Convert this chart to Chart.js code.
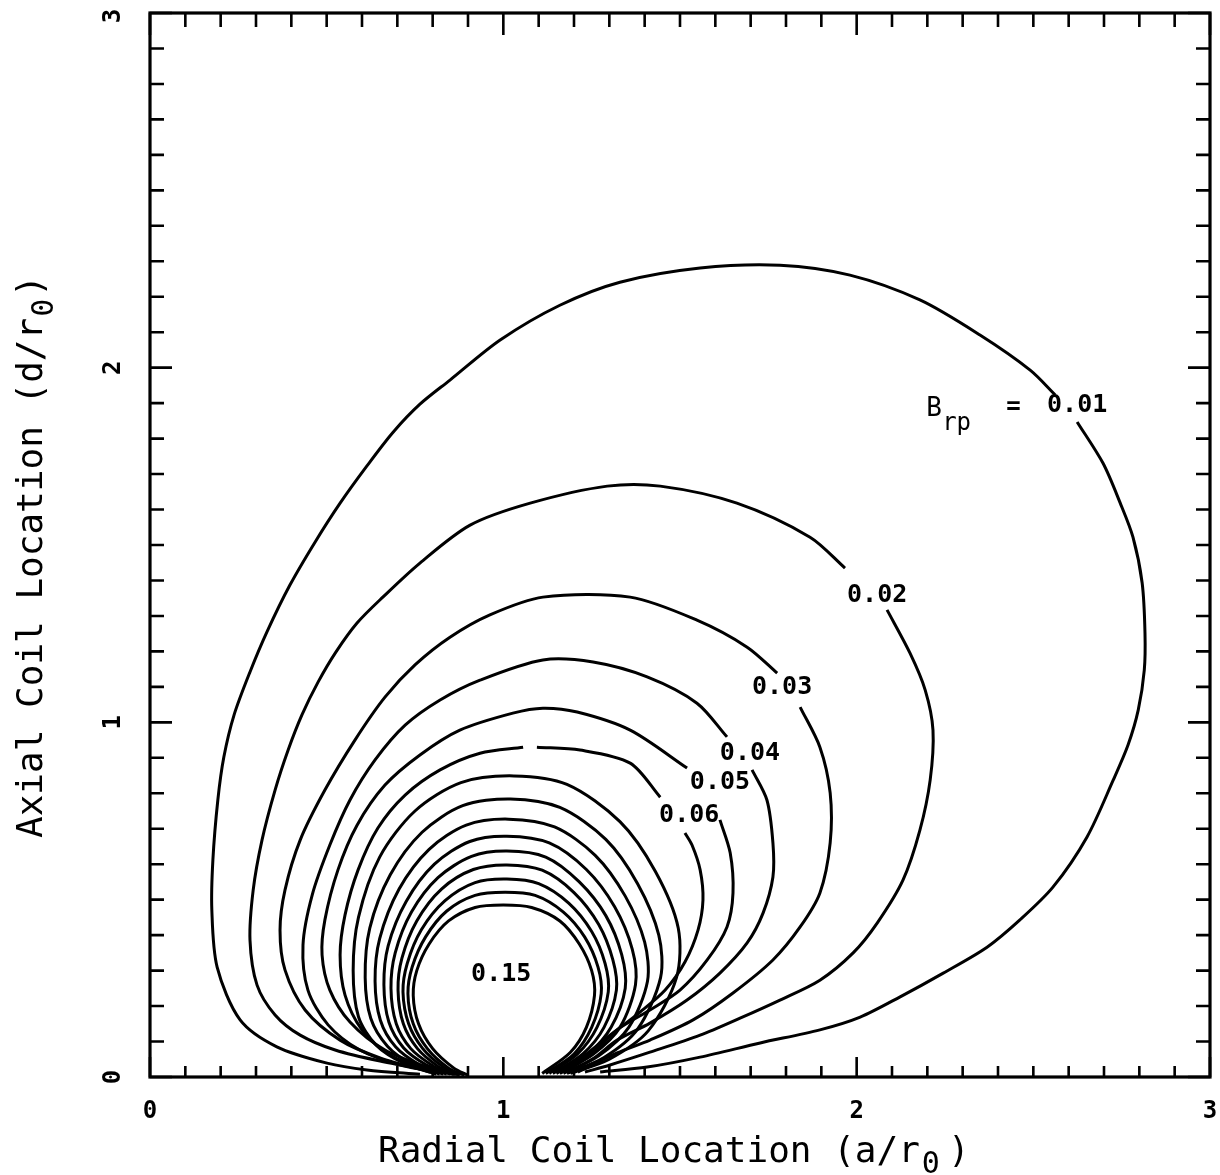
<!DOCTYPE html>
<html>
<head>
<meta charset="utf-8">
<title>Brp contours</title>
<script src="https://cdn.jsdelivr.net/npm/chart.js@4.4.1/dist/chart.umd.min.js"></script>
<style>
  html, body { margin: 0; padding: 0; background: #fff; }
  #wrap { width: 1220px; height: 1175px; }
</style>
</head>
<body>
<div id="wrap"><canvas id="contourChart" width="1220" height="1175"></canvas></div>
<script>
// Axis ticks
const xTickValues = [0, 1, 2, 3];
const yTickValues = [0, 1, 2, 3];
const minorStep = 0.1;

// Contour levels, outermost first
const levels = [0.01, 0.02, 0.03, 0.04, 0.05, 0.06, 0.07, 0.08, 0.09, 0.10, 0.11, 0.12, 0.13, 0.14, 0.15];

// Traced contours [a/r0, d/r0]; null = break where a label sits
const c01 = [[1.274,0.014],[1.407,0.028],[1.557,0.056],[1.727,0.096],[1.896,0.133],[2.010,0.169],[2.123,0.226],[2.245,0.293],[2.369,0.366],[2.462,0.443],[2.556,0.536],[2.652,0.677],[2.726,0.837],[2.768,0.936],[2.797,1.035],[2.814,1.147],[2.816,1.252],[2.808,1.393],[2.782,1.522],[2.746,1.618],[2.697,1.731],[2.624,1.847],null,[2.562,1.923],[2.491,1.993],[2.349,2.092],[2.179,2.191],[1.981,2.261],[1.783,2.289],[1.557,2.281],[1.330,2.241],[1.160,2.176],[0.991,2.078],[0.849,1.965],[0.764,1.897],[0.688,1.818],[0.614,1.723],[0.538,1.618],[0.467,1.508],[0.396,1.387],[0.331,1.255],[0.283,1.142],[0.238,1.021],[0.209,0.902],[0.192,0.781],[0.178,0.612],[0.175,0.471],[0.190,0.310],[0.255,0.161],[0.359,0.085],[0.501,0.039],[0.614,0.020],[0.764,0.008]];
const c02 = [[1.231,0.014],[1.302,0.034],[1.415,0.070],[1.557,0.118],[1.670,0.166],[1.783,0.217],[1.896,0.273],[1.990,0.350],[2.058,0.434],[2.131,0.555],[2.179,0.696],[2.208,0.837],[2.216,0.978],[2.194,1.091],[2.151,1.195],[2.086,1.317],null,[1.967,1.435],[1.868,1.522],[1.661,1.618],[1.444,1.666],[1.294,1.666],[1.076,1.618],[0.906,1.556],[0.764,1.449],[0.659,1.353],[0.586,1.280],[0.526,1.198],[0.476,1.114],[0.430,1.021],[0.391,0.922],[0.354,0.809],[0.317,0.668],[0.292,0.527],[0.283,0.386],[0.303,0.259],[0.354,0.175],[0.425,0.118],[0.524,0.076],[0.651,0.045],[0.821,0.014]];
const c03 = [[1.211,0.014],[1.322,0.068],[1.415,0.104],[1.537,0.161],[1.650,0.237],[1.763,0.330],[1.840,0.423],[1.896,0.519],[1.925,0.660],[1.925,0.801],[1.896,0.930],[1.840,1.043],null,[1.775,1.139],[1.690,1.212],[1.548,1.288],[1.359,1.353],[1.112,1.353],[0.962,1.303],[0.849,1.240],[0.750,1.162],[0.665,1.071],[0.580,0.950],[0.495,0.809],[0.425,0.668],[0.382,0.527],[0.368,0.414],[0.382,0.302],[0.439,0.189],[0.538,0.104],[0.651,0.054],[0.793,0.014]];
const c04 = [[1.203,0.023],[1.260,0.056],[1.322,0.104],[1.415,0.152],[1.520,0.217],[1.613,0.293],[1.690,0.378],[1.735,0.462],[1.763,0.564],[1.763,0.660],[1.746,0.781],[1.704,0.866],null,[1.633,0.959],[1.548,1.054],[1.407,1.128],[1.254,1.170],[1.112,1.176],[0.934,1.119],[0.821,1.063],[0.722,0.992],[0.637,0.894],[0.566,0.781],[0.509,0.654],[0.459,0.513],[0.433,0.372],[0.447,0.245],[0.504,0.147],[0.594,0.076],[0.708,0.034],[0.835,0.011]];
const c05 = [[1.175,0.014],[1.245,0.062],[1.322,0.133],[1.415,0.189],[1.500,0.245],[1.577,0.330],[1.633,0.423],[1.650,0.519],[1.642,0.632],[1.613,0.725],null,[1.520,0.871],[1.359,0.978],[1.209,1.029],[1.112,1.040],[1.027,1.026],[0.877,0.978],[0.764,0.908],[0.665,0.823],[0.586,0.710],[0.532,0.584],[0.495,0.443],[0.487,0.344],[0.509,0.245],[0.566,0.155],[0.665,0.076],[0.793,0.025],[0.863,0.008]];
const c06 = [[1.160,0.014],[1.231,0.062],[1.302,0.118],[1.387,0.183],[1.458,0.245],[1.514,0.324],[1.551,0.414],[1.565,0.499],[1.557,0.584],[1.534,0.654],[1.514,0.688],null,[1.444,0.789],[1.359,0.885],[1.217,0.922],[1.095,0.930],null,[1.056,0.930],[0.934,0.913],[0.821,0.866],[0.722,0.795],[0.645,0.702],[0.589,0.584],[0.552,0.457],[0.538,0.344],[0.552,0.231],[0.600,0.133],[0.679,0.062],[0.793,0.020],[0.877,0.006]];
const c07 = [[1.19,0.01],[1.30,0.05],[1.41,0.13],[1.49,0.28],[1.495,0.42],[1.43,0.58],[1.33,0.72],[1.18,0.825],[1.03,0.849],[0.88,0.83],[0.75,0.75],[0.65,0.62],[0.59,0.45],[0.575,0.30],[0.59,0.17],[0.64,0.09],[0.72,0.038],[0.81,0.008]];
const c08 = [[1.18,0.01],[1.285,0.055],[1.38,0.135],[1.445,0.28],[1.44,0.40],[1.38,0.545],[1.29,0.67],[1.16,0.76],[1.02,0.784],[0.885,0.765],[0.77,0.69],[0.68,0.57],[0.622,0.42],[0.609,0.28],[0.625,0.165],[0.672,0.087],[0.74,0.037],[0.82,0.008]];
const c09 = [[1.17,0.01],[1.27,0.06],[1.355,0.14],[1.408,0.27],[1.40,0.38],[1.345,0.51],[1.26,0.625],[1.145,0.705],[1.015,0.727],[0.895,0.71],[0.79,0.642],[0.705,0.53],[0.65,0.39],[0.637,0.27],[0.652,0.16],[0.695,0.085],[0.76,0.036],[0.83,0.008]];
const c10 = [[1.16,0.01],[1.255,0.065],[1.33,0.14],[1.374,0.26],[1.365,0.36],[1.315,0.48],[1.235,0.585],[1.13,0.66],[1.01,0.679],[0.905,0.664],[0.805,0.60],[0.725,0.495],[0.674,0.37],[0.662,0.26],[0.676,0.155],[0.718,0.082],[0.78,0.035],[0.84,0.008]];
const c11 = [[1.15,0.01],[1.24,0.065],[1.305,0.14],[1.345,0.25],[1.335,0.345],[1.29,0.455],[1.215,0.55],[1.12,0.62],[1.01,0.637],[0.91,0.622],[0.815,0.562],[0.74,0.465],[0.694,0.35],[0.682,0.25],[0.697,0.15],[0.738,0.08],[0.80,0.032],[0.85,0.008]];
const c12 = [[1.14,0.01],[1.225,0.065],[1.285,0.14],[1.32,0.245],[1.31,0.33],[1.27,0.43],[1.20,0.52],[1.11,0.583],[1.01,0.598],[0.915,0.585],[0.825,0.53],[0.755,0.44],[0.713,0.335],[0.702,0.245],[0.717,0.15],[0.757,0.08],[0.815,0.03],[0.86,0.007]];
const c13 = [[1.13,0.01],[1.21,0.065],[1.265,0.14],[1.297,0.24],[1.288,0.32],[1.25,0.41],[1.185,0.49],[1.10,0.545],[1.01,0.558],[0.92,0.548],[0.835,0.497],[0.768,0.415],[0.728,0.32],[0.716,0.24],[0.732,0.15],[0.772,0.08],[0.83,0.028],[0.875,0.006]];
const c14 = [[1.12,0.01],[1.20,0.065],[1.25,0.14],[1.277,0.235],[1.268,0.31],[1.23,0.395],[1.17,0.465],[1.09,0.512],[1.005,0.521],[0.92,0.512],[0.84,0.468],[0.78,0.395],[0.742,0.31],[0.730,0.235],[0.745,0.15],[0.785,0.08],[0.845,0.025],[0.89,0.005]];
const c15 = [[1.11,0.01],[1.19,0.07],[1.235,0.14],[1.258,0.23],[1.25,0.30],[1.215,0.375],[1.16,0.44],[1.08,0.478],[1.0,0.485],[0.92,0.478],[0.845,0.44],[0.79,0.375],[0.755,0.30],[0.745,0.23],[0.76,0.15],[0.80,0.08],[0.86,0.025],[0.90,0.005]];
const contourTraces = [c01, c02, c03, c04, c05, c06, c07, c08, c09, c10, c11, c12, c13, c14, c15];

// In-line level labels (centre of text, data units)
const labelText = ['0.01', '0.02', '0.03', '0.04', '0.05', '0.06', '0.15'];
const labelX = [2.624, 2.058, 1.789, 1.698, 1.613, 1.526, 0.994];
const labelY = [1.892, 1.359, 1.097, 0.913, 0.829, 0.736, 0.288];

// "B_rp =" legend anchor (data units)
const legendX = 2.208;
const legendY = 1.895;

const xTitle = 'Radial Coil Location (a/r';
const yTitle = 'Axial Coil Location (d/r';

const MONO = '"DejaVu Sans Mono", "Liberation Mono", monospace';

function toPoints(trace) {
    return trace.map(p => p ? { x: p[0], y: p[1] } : { x: null, y: null });
}

// frame, inward ticks and all the plotter lettering
const plotterDecor = {
    id: 'plotterDecor',
    afterDatasetsDraw(chart) {
        const { ctx, chartArea: a, scales: { x, y } } = chart;
        ctx.save();
        ctx.strokeStyle = '#000';
        ctx.fillStyle = '#000';
        ctx.lineCap = 'butt';

        // ticks every 0.1, long at integers, on all four sides
        ctx.lineWidth = 2.6;
        const n = Math.round((x.max - x.min) / minorStep);
        for (let i = 0; i <= n; i++) {
            const v = x.min + i * minorStep;
            const major = i % 10 === 0;
            const px = x.getPixelForValue(v);
            const py = y.getPixelForValue(v);
            const lb = major ? 20 : 11;
            const ls = major ? 22 : 14;
            ctx.beginPath();
            ctx.moveTo(px, a.bottom); ctx.lineTo(px, a.bottom - lb);
            ctx.moveTo(px, a.top); ctx.lineTo(px, a.top + ls);
            ctx.moveTo(a.left, py); ctx.lineTo(a.left + ls, py);
            ctx.moveTo(a.right, py); ctx.lineTo(a.right - ls, py);
            ctx.stroke();
        }

        // frame
        ctx.lineWidth = 3.2;
        ctx.strokeRect(a.left, a.top, a.right - a.left, a.bottom - a.top);

        // tick labels
        ctx.font = 'bold 24px ' + MONO;
        ctx.textAlign = 'center';
        ctx.textBaseline = 'middle';
        xTickValues.forEach(v => {
            ctx.fillText(String(v), x.getPixelForValue(v), a.bottom + 35);
        });
        yTickValues.forEach(v => {
            ctx.save();
            ctx.translate(a.left - 36, Math.max(y.getPixelForValue(v), a.top + 3));
            ctx.rotate(-Math.PI / 2);
            ctx.fillText(String(v), 0, 0);
            ctx.restore();
        });

        // axis titles with subscript zero
        ctx.textAlign = 'left';
        ctx.textBaseline = 'alphabetic';
        const mainFont = '36px ' + MONO;
        const subFont = '30px ' + MONO;
        ctx.font = mainFont;
        let tx = 378;
        ctx.fillText(xTitle, tx, 1162);
        tx += ctx.measureText(xTitle).width + 2;
        ctx.font = subFont;
        ctx.fillText('0', tx, 1173);
        tx += ctx.measureText('0').width + 8;
        ctx.font = mainFont;
        ctx.fillText(')', tx, 1162);

        ctx.save();
        ctx.translate(42, 838);
        ctx.rotate(-Math.PI / 2);
        ctx.font = mainFont;
        let ty = 0;
        ctx.fillText(yTitle, ty, 0);
        ty += ctx.measureText(yTitle).width + 1;
        ctx.font = subFont;
        ctx.fillText('0', ty, 11);
        ty += ctx.measureText('0').width + 2;
        ctx.font = mainFont;
        ctx.fillText(')', ty, 0);
        ctx.restore();

        // contour level labels
        ctx.textAlign = 'center';
        ctx.textBaseline = 'middle';
        ctx.font = 'bold 25px ' + MONO;
        labelText.forEach((t, i) => {
            ctx.fillText(t, x.getPixelForValue(labelX[i]), y.getPixelForValue(labelY[i]));
        });

        // B_rp =
        const bx = x.getPixelForValue(legendX);
        const by = y.getPixelForValue(legendY);
        ctx.textAlign = 'left';
        ctx.textBaseline = 'alphabetic';
        ctx.font = '26px ' + MONO;
        ctx.fillText('B', bx - 4, by + 11);
        ctx.font = '24px ' + MONO;
        ctx.fillText('rp', bx + 12, by + 25);
        ctx.font = 'bold 24px ' + MONO;
        ctx.fillText('=', bx + 76, by + 9);

        ctx.restore();
    }
};

window.addEventListener('load', function () {
    if (typeof Chart === 'undefined') {
        console.error('Chart.js not loaded');
        return;
    }
    const canvas = document.getElementById('contourChart');
    const datasets = contourTraces.map((trace, i) => ({
        label: 'Brp = ' + levels[i].toFixed(2),
        data: toPoints(trace),
        showLine: true,
        spanGaps: false,
        borderColor: '#000',
        borderWidth: 3,
        pointRadius: 0,
        tension: 0.3
    }));

    new Chart(canvas.getContext('2d'), {
        type: 'scatter',
        data: { datasets: datasets },
        options: {
            responsive: false,
            animation: false,
            layout: { padding: { left: 150, right: 10, top: 13, bottom: 98 } },
            plugins: { legend: { display: false }, tooltip: { enabled: false } },
            scales: {
                x: { type: 'linear', min: 0, max: 3, display: false },
                y: { type: 'linear', min: 0, max: 3, display: false }
            }
        },
        plugins: [plotterDecor]
    });
});
</script>
</body>
</html>
